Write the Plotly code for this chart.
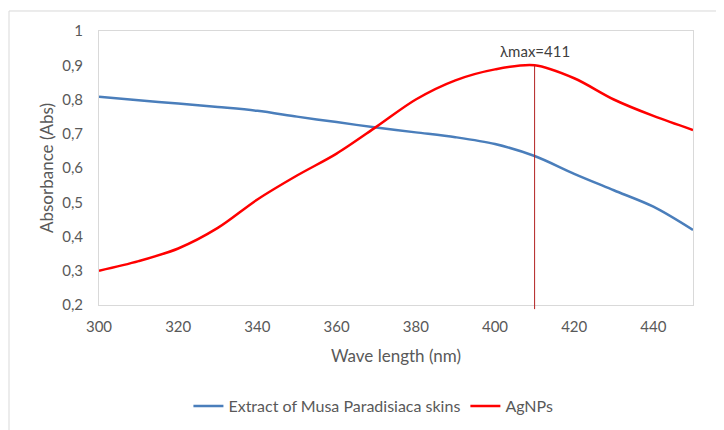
import plotly.graph_objects as go

wavelength = [300, 310, 320, 330, 340, 350, 360, 370, 380, 390, 400, 410, 420, 430, 440, 450]
extract_abs = [0.808, 0.798, 0.788, 0.778, 0.767, 0.750, 0.734, 0.718, 0.704, 0.690, 0.670, 0.635, 0.583, 0.535, 0.487, 0.419]
agnps_abs = [0.300, 0.328, 0.365, 0.425, 0.508, 0.578, 0.642, 0.720, 0.800, 0.856, 0.888, 0.900, 0.862, 0.800, 0.752, 0.711]

extract_name = "Extract of Musa Paradisiaca skins"
agnps_name = "AgNPs"
peak_label = "λmax=411"
x_title = "Wave length (nm)"
y_title = "Absorbance (Abs)"
x_ticks = [300, 320, 340, 360, 380, 400, 420, 440]
y_ticks = [0.2, 0.3, 0.4, 0.5, 0.6, 0.7, 0.8, 0.9, 1.0]
y_ticktext = ["0,2", "0,3", "0,4", "0,5", "0,6", "0,7", "0,8", "0,9", "1"]
y_range = [0.2, 1.0]
x_range = [300, 450]

peak_idx = max(range(len(agnps_abs)), key=lambda i: agnps_abs[i])
peak_x = wavelength[peak_idx]
peak_y = agnps_abs[peak_idx]

FONT = "Lato, 'Open Sans', sans-serif"
GRAY = "#595959"

fig = go.Figure()
fig.add_trace(go.Scatter(x=wavelength, y=extract_abs, name=extract_name, mode="lines",
                         line=dict(color="#4A7EBB", width=2.5, shape="spline", smoothing=0.9)))
fig.add_trace(go.Scatter(x=wavelength, y=agnps_abs, name=agnps_name, mode="lines",
                         line=dict(color="#FF0000", width=2.5, shape="spline", smoothing=0.9)))

peak_paper = (peak_y - y_range[0]) / (y_range[1] - y_range[0])
fig.add_shape(type="line", xref="x", yref="paper", x0=peak_x, x1=peak_x, y0=-0.015, y1=peak_paper,
              line=dict(color="#B22222", width=1))
fig.add_annotation(x=peak_x, xref="x", y=0.927, yref="paper", text=peak_label, showarrow=False,
                   font=dict(size=15, color="#404040", family=FONT), yanchor="middle")

# outer chart frame
fig.add_shape(type="rect", xref="paper", yref="paper", x0=-0.1515, x1=1.2, y0=-0.7, y1=1.073,
              line=dict(color="#D9D9D9", width=1), layer="below")

fig.update_layout(
    width=724, height=430,
    margin=dict(l=91, r=39, t=23, b=133, autoexpand=False),
    paper_bgcolor="white", plot_bgcolor="white",
    font=dict(family=FONT, size=15, color=GRAY),
    showlegend=True,
    legend=dict(orientation="h", x=0.462, xanchor="center", y=-0.369, yanchor="middle",
                font=dict(size=16, color=GRAY, family=FONT)),
    xaxis=dict(range=x_range, tickvals=x_ticks, showgrid=False, zeroline=False,
               showline=True, linecolor="#D9D9D9", mirror=True, ticks="",
               ticklabelstandoff=8,
               tickfont=dict(size=15, color=GRAY),
               title=dict(text=x_title, font=dict(size=17, color=GRAY), standoff=16)),
    yaxis=dict(range=y_range, tickvals=y_ticks, ticktext=y_ticktext,
               showgrid=False, zeroline=False,
               showline=True, linecolor="#D9D9D9", mirror=True, ticks="",
               ticklabelstandoff=12,
               tickfont=dict(size=15, color=GRAY),
               title=dict(text=y_title, font=dict(size=17, color=GRAY), standoff=4)),
)

fig.write_html("out.html")
